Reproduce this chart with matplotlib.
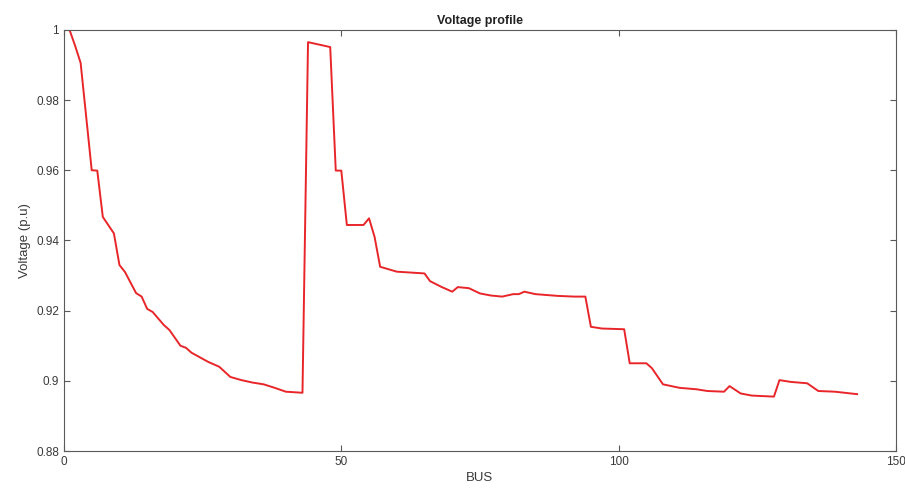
import matplotlib
matplotlib.use("Agg")
import matplotlib.pyplot as plt

# ── Data ─────────────────────────────────────────────────────────────────────
bus = [1, 2, 3, 5, 6, 7, 9, 10, 11, 13, 14,
       15, 16, 18, 19, 21, 22, 23, 26, 28, 30,
       32, 34, 36, 38, 40, 43, 44, 48, 49, 50,
       51, 54, 55, 56, 57, 60, 65, 66, 68, 70,
       71, 73, 75, 77, 79, 81, 82, 83, 85, 89,
       92, 94, 95, 97, 101, 102, 105, 106, 108, 111,
       114, 116, 119, 120, 122, 124, 128, 129, 131, 134,
       136, 139, 143]
voltage = [1.0, 0.9955, 0.9906, 0.960, 0.9599, 0.9467, 0.942, 0.933, 0.931, 0.925, 0.924,
           0.9205, 0.9196, 0.9159, 0.9145, 0.910, 0.9094, 0.908, 0.9054, 0.904, 0.9011,
           0.9002, 0.8995, 0.899, 0.898, 0.8969, 0.8966, 0.9965, 0.9951, 0.9599, 0.9599,
           0.9444, 0.9444, 0.9463, 0.941, 0.9325, 0.9311, 0.9306, 0.9284, 0.9268, 0.9254,
           0.9267, 0.9264, 0.9249, 0.9243, 0.924, 0.9247, 0.9247, 0.9254, 0.9247, 0.9242,
           0.924, 0.924, 0.9154, 0.9149, 0.9147, 0.905, 0.905, 0.9036, 0.899, 0.898,
           0.8976, 0.8971, 0.8969, 0.8985, 0.8964, 0.8958, 0.8955, 0.9002, 0.8997, 0.8993,
           0.8971, 0.8969, 0.8962]

x_ticks = [0, 50, 100, 150]
y_ticks = [0.88, 0.90, 0.92, 0.94, 0.96, 0.98, 1.0]
y_tick_labels = ["0.88", "0.9", "0.92", "0.94", "0.96", "0.98", "1"]

_AXIS_COLOR = "#5a5a5a"
_TEXT_COLOR = "#3a3a3a"

plt.rcParams["font.family"] = ["Liberation Sans", "DejaVu Sans"]

fig = plt.figure(figsize=(9.05, 4.92), dpi=100)
ax = fig.add_axes([0.0707, 0.0833, 0.9193, 0.856])

ax.plot(bus, voltage, color="#e8262a", lw=1.4)

ax.set_xlim(0, 150)
ax.set_ylim(0.88, 1.0)
ax.set_xticks(x_ticks)
ax.set_yticks(y_ticks)
ax.set_yticklabels(y_tick_labels)

ax.tick_params(direction="in", length=4, width=0.8, colors=_AXIS_COLOR,
               labelcolor=_TEXT_COLOR, labelsize=8.5, top=True, right=True,
               labeltop=False, labelright=False)
for spine in ax.spines.values():
    spine.set_edgecolor(_AXIS_COLOR)
    spine.set_linewidth(0.8)

ax.set_title("Voltage profile", fontsize=9, fontweight="bold",
             color="#222222", pad=4)
ax.set_xlabel("BUS", fontsize=9.5, color=_TEXT_COLOR, labelpad=3)
ax.set_ylabel("Voltage (p.u)", fontsize=9.5, color=_TEXT_COLOR, labelpad=4)

fig.savefig("out.png", dpi=100)
